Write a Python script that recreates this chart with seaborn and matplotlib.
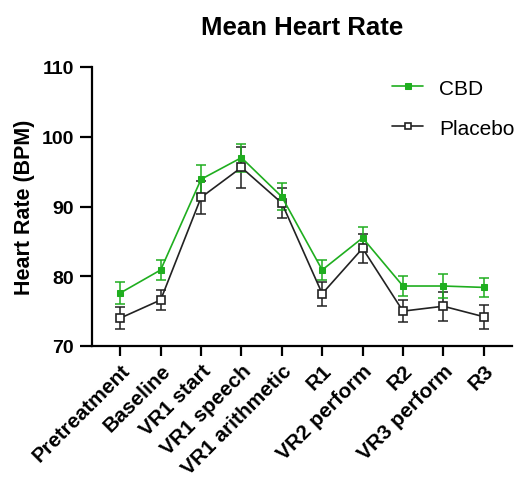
import numpy as np
import pandas as pd
import matplotlib
matplotlib.use('Agg')
import matplotlib.pyplot as plt
import seaborn as sns

# data
phases = ['Pretreatment', 'Baseline', 'VR1 start', 'VR1 speech', 'VR1 arithmetic',
          'R1', 'VR2 perform', 'R2', 'VR3 perform', 'R3']
cbd_mean = [77.6, 80.9, 93.9, 97.0, 91.4, 80.9, 85.5, 78.6, 78.6, 78.4]
cbd_sem = [1.6, 1.4, 2.1, 2.0, 1.9, 1.4, 1.6, 1.4, 1.7, 1.4]
placebo_mean = [74.0, 76.6, 91.3, 95.6, 90.5, 77.5, 84.0, 75.0, 75.7, 74.2]
placebo_sem = [1.6, 1.5, 2.4, 2.9, 2.1, 1.7, 2.1, 1.6, 2.1, 1.7]

green = '#1fae1f'

sns.set_style('white')
plt.rcParams['font.family'] = ['Liberation Sans', 'DejaVu Sans']
plt.rcParams['text.color'] = 'black'
plt.rcParams['axes.labelcolor'] = 'black'
plt.rcParams['xtick.color'] = 'black'
plt.rcParams['ytick.color'] = 'black'

df_cbd = pd.DataFrame({'x': np.arange(len(phases)), 'y': cbd_mean})
df_pla = pd.DataFrame({'x': np.arange(len(phases)), 'y': placebo_mean})

fig = plt.figure(figsize=(5.24, 4.81), dpi=100)
ax = fig.add_axes([92/524, 1-347/481, 420/524, 279/481])

ax.errorbar(df_pla['x'], df_pla['y'], yerr=placebo_sem, fmt='none', ecolor='#222222',
            elinewidth=1.1, capsize=3.5, capthick=1.1, zorder=2)
ax.errorbar(df_cbd['x'], df_cbd['y'], yerr=cbd_sem, fmt='none', ecolor=green,
            elinewidth=1.1, capsize=3.5, capthick=1.1, zorder=2)

sns.lineplot(data=df_pla, x='x', y='y', ax=ax, color='#222222', linewidth=1.2,
             marker='s', markersize=6, markerfacecolor='white', markeredgecolor='#222222',
             markeredgewidth=1.2, label='Placebo', zorder=3)
sns.lineplot(data=df_cbd, x='x', y='y', ax=ax, color=green, linewidth=1.2,
             marker='s', markersize=5, markerfacecolor=green, markeredgecolor=green,
             label='CBD', zorder=4)

ax.set_xlim(-0.7, len(phases) - 0.3)
ax.set_ylim(70, 110)
ax.set_yticks([70, 80, 90, 100, 110])
ax.set_xticks(np.arange(len(phases)))
ax.set_xticklabels(phases, rotation=45, ha='right', rotation_mode='anchor',
                   fontsize=15, fontweight='bold')
for t in ax.get_yticklabels():
    t.set_fontsize(14)
    t.set_fontweight('bold')
ax.set_xlabel('')
ax.set_ylabel('Heart Rate (BPM)', fontsize=15.5, fontweight='bold', labelpad=5)
ax.set_title('Mean Heart Rate', fontsize=18.5, fontweight='bold', pad=24, x=0.5)

sns.despine(ax=ax)
for s in ['left', 'bottom']:
    ax.spines[s].set_linewidth(1.6)
    ax.spines[s].set_color('black')
ax.tick_params(axis='both', direction='out', width=1.6, color='black',
               bottom=True, left=True)
ax.tick_params(axis='x', length=7.5, pad=3)
ax.tick_params(axis='y', length=9, pad=4)

h, l = ax.get_legend_handles_labels()
order = [l.index('CBD'), l.index('Placebo')]
leg = ax.legend([h[i] for i in order], [l[i] for i in order], frameon=False,
                loc='upper right', bbox_to_anchor=(1.05, 1.025), fontsize=15,
                labelspacing=1.0, handlelength=1.5, handletextpad=0.75)
for lh in leg.get_lines():
    lh.set_markersize(4.5)

fig.savefig('out.png', dpi=100)
